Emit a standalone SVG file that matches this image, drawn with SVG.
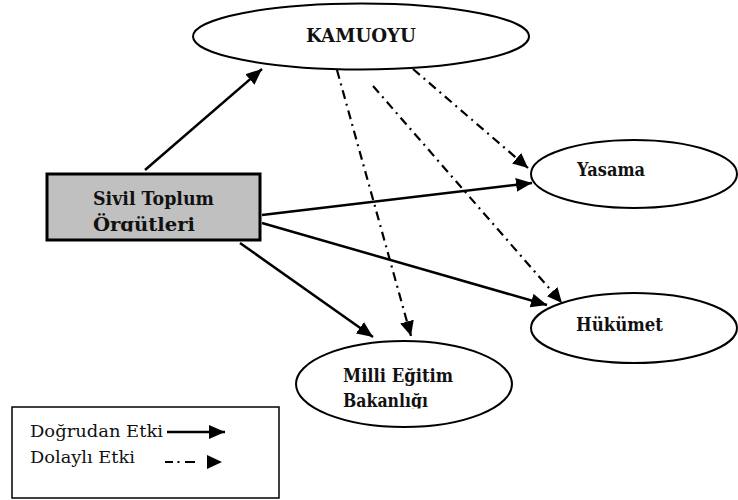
<svg xmlns="http://www.w3.org/2000/svg" width="738" height="500" viewBox="0 0 738 500">
<style>
.node{fill:#fff;stroke:#000;stroke-width:2}
.lbl{font-family:"DejaVu Serif","Liberation Serif",serif;font-weight:bold;font-size:18.5px;fill:#111}
.leg{font-family:"DejaVu Serif","Liberation Serif",serif;font-size:16.5px;fill:#111}
.solid{stroke:#000;stroke-width:2.5;fill:none}
.dd{stroke:#000;stroke-width:2.2;fill:none;stroke-dasharray:9 5 2 5}
</style>
<defs>
<marker id="ah" markerUnits="userSpaceOnUse" markerWidth="18" markerHeight="14" refX="16" refY="7" orient="auto">
<path d="M0,0 L16,7 L0,14 z" fill="#000"/>
</marker>
<marker id="ahd" markerUnits="userSpaceOnUse" markerWidth="16" markerHeight="14" refX="15" refY="7" orient="auto">
<path d="M0,0 L15,7 L0,14 z" fill="#000"/>
</marker>
<clipPath id="clipS"><rect x="50" y="176" width="208" height="55.5"/></clipPath>
<clipPath id="clipM"><rect x="300" y="340" width="210" height="68.5"/></clipPath>
</defs>
<rect width="738" height="500" fill="#fff"/>
<g id="connectors">
<line class="solid" x1="145" y1="170" x2="262" y2="69" marker-end="url(#ah)"/>
<line class="solid" x1="262" y1="215" x2="532" y2="183" marker-end="url(#ah)"/>
<line class="solid" x1="262" y1="223" x2="547" y2="305" marker-end="url(#ah)"/>
<line class="solid" x1="240" y1="243" x2="373" y2="337" marker-end="url(#ah)"/>
<line class="dd" x1="337" y1="70" x2="411" y2="336" marker-end="url(#ahd)"/>
<line class="dd" x1="373" y1="86" x2="562" y2="303" marker-end="url(#ahd)"/>
<line class="dd" x1="413" y1="69" x2="528" y2="168" marker-end="url(#ahd)"/>
</g>
<g id="kamuoyu">
<ellipse class="node" cx="361" cy="36.5" rx="168" ry="33"/>
<text class="lbl" x="361" y="42" text-anchor="middle" textLength="110" lengthAdjust="spacingAndGlyphs">KAMUOYU</text>
</g>
<g id="stk">
<rect x="47" y="174" width="213" height="66" fill="#c0c0c0" stroke="#000" stroke-width="3"/>
<text class="lbl" x="93" y="205" textLength="121" lengthAdjust="spacingAndGlyphs">Sivil Toplum</text>
<text class="lbl" x="93" y="231" textLength="102" lengthAdjust="spacingAndGlyphs" clip-path="url(#clipS)">Örgütleri</text>
</g>
<g id="yasama">
<ellipse class="node" cx="634" cy="174" rx="103" ry="34"/>
<text class="lbl" x="577" y="176" textLength="68" lengthAdjust="spacingAndGlyphs">Yasama</text>
</g>
<g id="hukumet">
<ellipse class="node" cx="634" cy="328" rx="103" ry="35"/>
<text class="lbl" x="576" y="331" textLength="87" lengthAdjust="spacingAndGlyphs">Hükümet</text>
</g>
<g id="meb">
<ellipse class="node" cx="404" cy="384" rx="108" ry="43"/>
<text class="lbl" x="343" y="382" textLength="110" lengthAdjust="spacingAndGlyphs">Milli Eğitim</text>
<text class="lbl" x="343" y="407" textLength="85" lengthAdjust="spacingAndGlyphs" clip-path="url(#clipM)">Bakanlığı</text>
</g>
<g id="legend">
<rect x="12" y="407" width="267" height="91" fill="#fff" stroke="#000" stroke-width="1.5"/>
<text class="leg" x="30" y="437" textLength="133" lengthAdjust="spacingAndGlyphs">Doğrudan Etki</text>
<text class="leg" x="30" y="463" textLength="105" lengthAdjust="spacingAndGlyphs">Dolaylı Etki</text>
<line class="solid" x1="167" y1="432" x2="225" y2="432" marker-end="url(#ah)"/>
<path d="M165,462 H173 M177.5,462 H179.5 M185,462 H195" stroke="#000" stroke-width="2.2" fill="none"/>
<path d="M207,455 L222,462 L207,469 z" fill="#000"/>
</g>
</svg>
